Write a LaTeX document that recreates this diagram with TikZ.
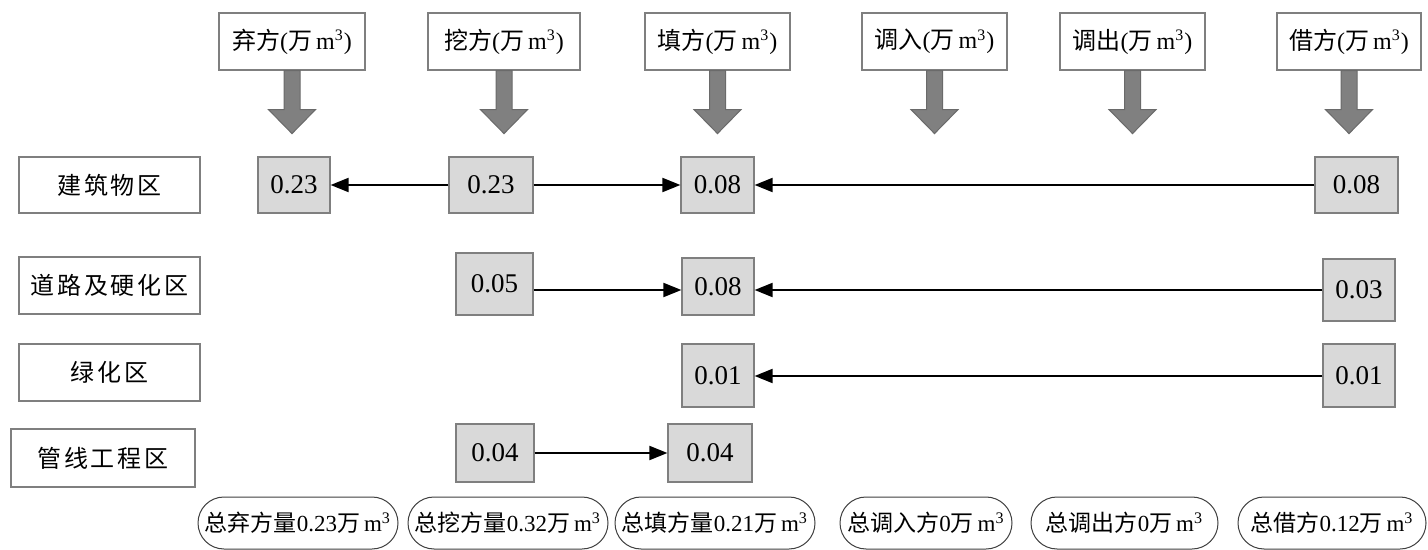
\documentclass[tikz,border=0pt]{standalone}
\usepackage{fontspec}
\setmainfont{Liberation Serif}
\newfontfamily\cjk{Noto Sans CJK SC}
\newfontfamily\cjkwide{Noto Sans CJK SC}[LetterSpace=12]
\usetikzlibrary{arrows.meta}
\newcommand\zh[1]{{\cjk #1}}
\newcommand\zhw[1]{{\cjkwide #1}}
\newcommand\mcube{\,m\textsuperscript{3}}
\definecolor{boxfill}{HTML}{D9D9D9}
\definecolor{boxline}{HTML}{7F7F7F}
\definecolor{arrfill}{HTML}{808080}
\definecolor{arrline}{HTML}{6A6A6A}
\begin{document}
\begin{tikzpicture}[x=0.5pt,y=-0.5pt,
  whitebox/.style={draw=boxline,line width=0.6pt,fill=white,inner sep=0pt,
    font=\fontsize{12}{14}\selectfont},
  valbox/.style={draw=boxline,line width=0.6pt,fill=boxfill,inner sep=0pt,
    font=\fontsize{13.5}{15}\selectfont},
  total/.style={draw=black!75,line width=0.5pt,fill=white,inner sep=0pt,
    minimum height=26pt,rounded corners=13pt,font=\fontsize{11.5}{13}\selectfont},
  flow/.style={line width=1pt,-{Triangle[length=9pt,width=7pt]}},
  blockarrow/.style={fill=arrfill,draw=arrline,line width=0.5pt}]
\useasboundingbox (0,0) rectangle (1428,550);
\fill[white] (0,0) rectangle (1428,550);

% header boxes
\node[whitebox,minimum width=73pt,minimum height=28.5pt] (h1) at (292,41.5) {\zh{弃方}(\zh{万}\mcube)};
\node[whitebox,minimum width=76pt,minimum height=28.5pt] (h2) at (504,41.5) {\zh{挖方}(\zh{万}\mcube)};
\node[whitebox,minimum width=72.5pt,minimum height=28.5pt] (h3) at (717.5,41.5) {\zh{填方}(\zh{万}\mcube)};
\node[whitebox,minimum width=72.5pt,minimum height=28.5pt] (h4) at (934.5,41.5) {\zh{调入}(\zh{万}\mcube)};
\node[whitebox,minimum width=72.5pt,minimum height=28.5pt] (h5) at (1132.5,41.5) {\zh{调出}(\zh{万}\mcube)};
\node[whitebox,minimum width=72pt,minimum height=28.5pt] (h6) at (1349,41.5) {\zh{借方}(\zh{万}\mcube)};

% block arrows under headers
\foreach \n in {h1,h2,h3,h4,h5,h6}{
  \path[blockarrow] (\n.south) +(-8,0) -- +(-8,39) -- +(-23.5,39) -- +(0,63)
     -- +(23.5,39) -- +(8,39) -- +(8,0) -- cycle;
}

% row labels
\node[whitebox,minimum width=90.5pt,minimum height=28pt] (l1) at (109.5,185) {\zhw{建筑物区}};
\node[whitebox,minimum width=90.5pt,minimum height=28.5pt] (l2) at (109.5,285.5) {\zhw{道路及硬化区}};
\node[whitebox,minimum width=90.5pt,minimum height=28.5pt] (l3) at (109.5,372.5) {\zhw{绿化区}};
\node[whitebox,minimum width=92pt,minimum height=29pt] (l4) at (103,458) {\zhw{管线工程区}};

% value boxes
\node[valbox,minimum width=36pt,minimum height=28pt] (a1) at (294,185) {0.23};
\node[valbox,minimum width=42pt,minimum height=28pt] (b1) at (491,185) {0.23};
\node[valbox,minimum width=36.5pt,minimum height=28pt] (c1) at (717.5,185) {0.08};
\node[valbox,minimum width=41.5pt,minimum height=28pt] (f1) at (1356.5,185) {0.08};

\node[valbox,minimum width=38.5pt,minimum height=31pt] (b2) at (494.5,284) {0.05};
\node[valbox,minimum width=36pt,minimum height=28.5pt] (c2) at (718,286.5) {0.08};
\node[valbox,minimum width=36pt,minimum height=31pt] (f2) at (1359,290) {0.03};

\node[valbox,minimum width=36pt,minimum height=31.5pt] (c3) at (718,375.5) {0.01};
\node[valbox,minimum width=36pt,minimum height=31.5pt] (f3) at (1359,375.5) {0.01};

\node[valbox,minimum width=39pt,minimum height=29pt] (b4) at (495,453) {0.04};
\node[valbox,minimum width=42pt,minimum height=29pt] (c4) at (710,453) {0.04};

% row levels
\coordinate (r2) at (0,290);
\coordinate (r3) at (0,376);

% connectors
\draw[flow] (b1.west) -- (a1.east);
\draw[flow] (b1.east) -- (c1.west);
\draw[flow] (f1.west) -- (c1.east);
\draw[flow] (b2.east |- r2) -- (c2.west |- r2);
\draw[flow] (f2.west |- r2) -- (c2.east |- r2);
\draw[flow] (f3.west |- r3) -- (c3.east |- r3);
\draw[flow] (b4.east) -- (c4.west);

% totals
\node[total,minimum width=100pt] (o1) at (298,523) {\zh{总弃方量}0.23\zh{万}\mcube};
\node[total,minimum width=100pt] (o2) at (508,523) {\zh{总挖方量}0.32\zh{万}\mcube};
\node[total,minimum width=100pt] (o3) at (715,523) {\zh{总填方量}0.21\zh{万}\mcube};
\node[total,minimum width=86pt] (o4) at (926,523) {\zh{总调入方}0\zh{万}\mcube};
\node[total,minimum width=93.5pt] (o5) at (1124.5,523) {\zh{总调出方}0\zh{万}\mcube};
\node[total,minimum width=94pt] (o6) at (1332,523) {\zh{总借方}0.12\zh{万}\mcube};
\end{tikzpicture}
\end{document}
